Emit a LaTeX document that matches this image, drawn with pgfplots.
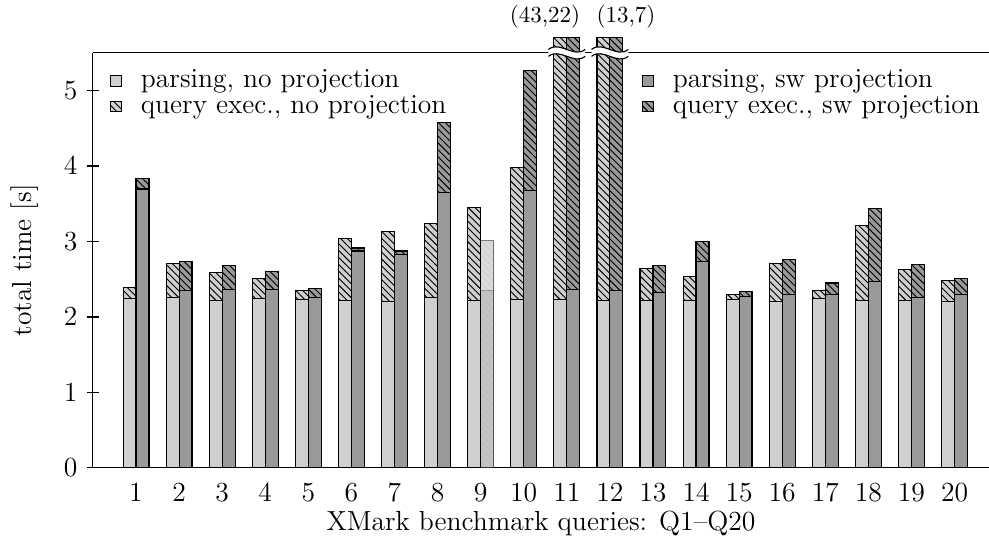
\documentclass[12pt,border=0pt]{standalone}
\usepackage{pgfplots}
\pgfplotsset{compat=1.18}
\usetikzlibrary{patterns}
\definecolor{lightbar}{RGB}{207,207,207}
\definecolor{darkbar}{RGB}{153,153,153}
\newcommand\brk[1]{\begin{scope}[shift={(#1)}]
\fill[white] (-8pt,-1.5pt) .. controls (-3pt,2.5pt) and (3pt,-5.5pt) .. (8pt,-1.5pt) -- (8pt,1.5pt) .. controls (3pt,-2.5pt) and (-3pt,5.5pt) .. (-8pt,1.5pt) -- cycle;
\draw[line width=0.5pt] (-8pt,-1.5pt) .. controls (-3pt,2.5pt) and (3pt,-5.5pt) .. (8pt,-1.5pt);
\draw[line width=0.5pt] (-8pt,1.5pt) .. controls (-3pt,5.5pt) and (3pt,-2.5pt) .. (8pt,1.5pt);
\end{scope}}
\begin{document}
\begin{tikzpicture}
\begin{axis}[
  name=main,
  scale only axis, width=389.6pt, height=180.4pt,
  xmin=0, xmax=20.8, ymin=0, ymax=5.5,
  axis x line=box, axis y line=left, axis line style={-, line width=0.5pt},
  xtick={1,...,20}, ytick={0,...,5},
  xtick style={draw=none}, ytick style={black, line width=0.5pt},
  tick align=center, major tick length=5pt,
  clip=false,
  bar width=0.3,
  xlabel={XMark benchmark queries: Q1--Q20},
  ylabel={total time [s]},
  xlabel shift=-4pt, ylabel shift=3pt,
  legend image code/.code={\draw[#1, draw=black, line width=0.4pt] (0pt,-2.3pt) rectangle (4.6pt,2.3pt); \path (11pt,0pt);},
  legend columns=2, legend cell align=left,
  legend style={draw=none, fill=none, at={(0.011,0.983)}, anchor=north west,
    /tikz/column 2/.style={column sep=83pt}, row sep=-2.5pt},
]
\addlegendimage{fill=lightbar}
\addlegendentry{parsing, no projection}
\addlegendimage{fill=darkbar}
\addlegendentry{parsing, sw projection}
\addlegendimage{fill=lightbar, postaction={pattern=north west lines}}
\addlegendentry{query exec., no projection}
\addlegendimage{fill=darkbar, postaction={pattern=north west lines}}
\addlegendentry{query exec., sw projection}
% totals (query exec. on top of parsing), no projection
\addplot[ybar, bar shift=-0.15, fill=lightbar, draw=black, line width=0.5pt, postaction={pattern=north west lines}, forget plot] coordinates {
(1,2.385) (2,2.707) (3,2.588) (4,2.505) (5,2.355) (6,3.042) (7,3.135) (8,3.236) (9,3.448) (10,3.977)
(11,5.700) (12,5.700) (13,2.640) (14,2.531) (15,2.297) (16,2.707) (17,2.355) (18,3.210) (19,2.632) (20,2.478)};
% totals, sw projection
\addplot[ybar, bar shift=0.15, fill=darkbar, draw=black, line width=0.5pt, postaction={pattern=north west lines}, forget plot] coordinates {
(1,3.836) (2,2.738) (3,2.685) (4,2.600) (5,2.377) (6,2.914) (7,2.875) (8,4.580) (10,5.265)
(11,5.700) (12,5.700) (13,2.680) (14,2.998) (15,2.337) (16,2.760) (17,2.450) (18,3.443) (19,2.690) (20,2.509)};
% parsing, no projection
\addplot[ybar, bar shift=-0.15, fill=lightbar, draw=black, line width=0.5pt, forget plot] coordinates {
(1,2.245) (2,2.258) (3,2.218) (4,2.240) (5,2.230) (6,2.218) (7,2.200) (8,2.253) (9,2.213) (10,2.230)
(11,2.230) (12,2.218) (13,2.218) (14,2.218) (15,2.230) (16,2.209) (17,2.249) (18,2.213) (19,2.213) (20,2.209)};
% parsing, sw projection
\addplot[ybar, bar shift=0.15, fill=darkbar, draw=black, line width=0.5pt, forget plot] coordinates {
(1,3.695) (2,2.350) (3,2.364) (4,2.368) (5,2.258) (6,2.875) (7,2.826) (8,3.647) (10,3.673)
(11,2.364) (12,2.345) (13,2.320) (14,2.730) (15,2.275) (16,2.300) (17,2.297) (18,2.470) (19,2.262) (20,2.297)};
% Q9 sw projection (faded)
\addplot[ybar, bar shift=0.15, fill=darkbar, fill opacity=0.35, draw=black, draw opacity=0.3, line width=0.5pt, postaction={pattern=north west lines, pattern color=black!30}, forget plot] coordinates {(9,3.012)};
\addplot[ybar, bar shift=0.15, fill=darkbar, fill opacity=0.35, draw=black, draw opacity=0.3, line width=0.5pt, forget plot] coordinates {(9,2.345)};
\coordinate (b11) at (axis cs:11,5.5);
\coordinate (b12) at (axis cs:12,5.5);
\node[font=\fontsize{10}{12}\selectfont, inner sep=0pt, anchor=base east] at (axis cs:11.32,5.90) {(43,22)};
\node[font=\fontsize{10}{12}\selectfont, inner sep=0pt, anchor=base west] at (axis cs:11.68,5.90) {(13,7)};
\end{axis}
\brk{b11}
\brk{b12}
\pgfresetboundingbox
\path ([xshift=-40.4pt,yshift=-31.3pt]main.south west) rectangle ([yshift=23pt]main.north east);
\end{tikzpicture}
\end{document}
